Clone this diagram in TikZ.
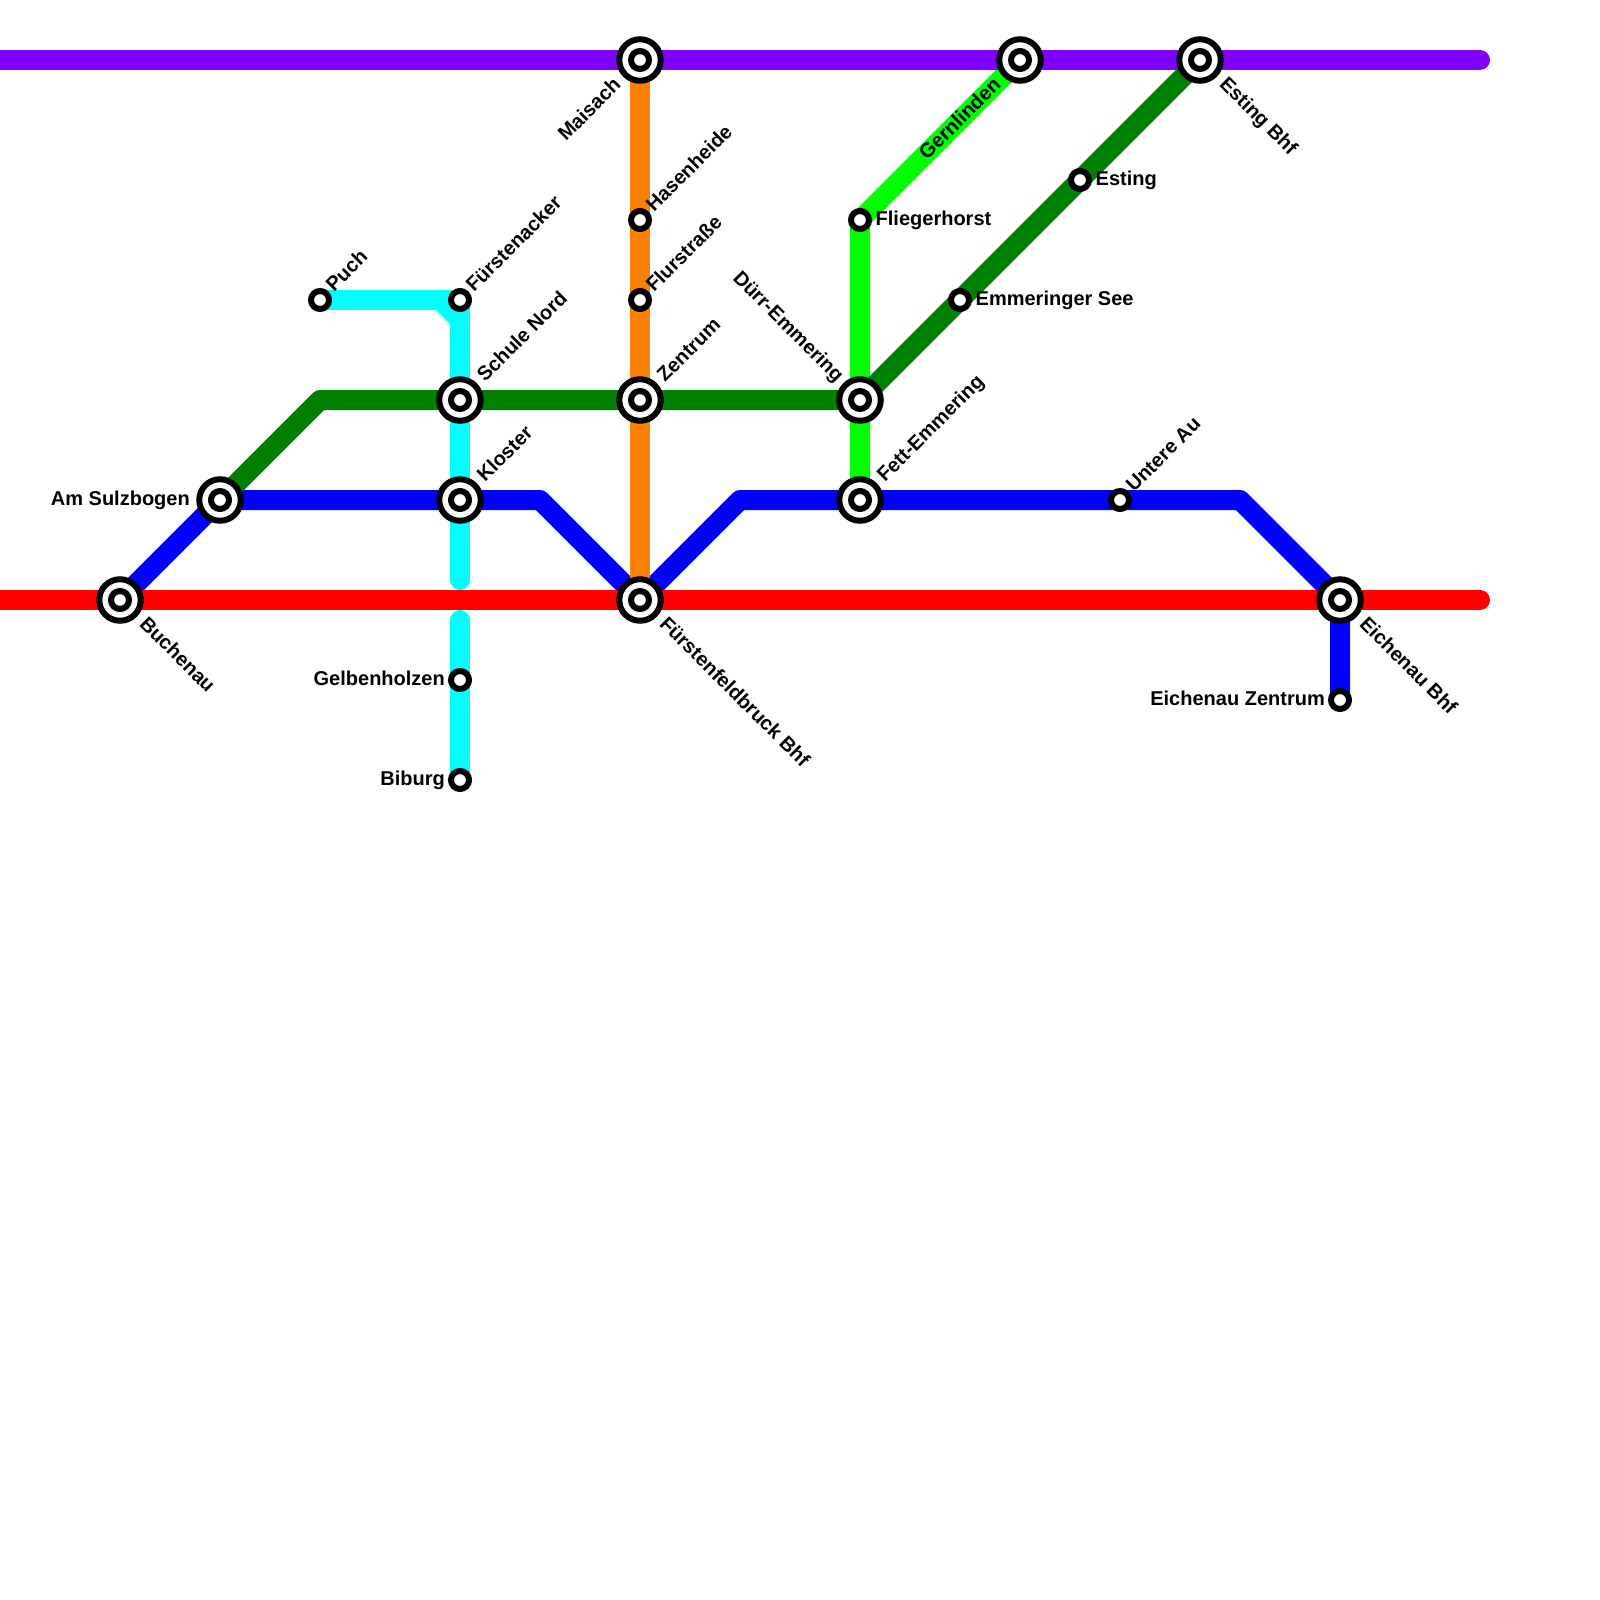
\documentclass[tikz,border=0pt]{standalone}
\usepackage{fontspec}
\setmainfont{Liberation Sans}
\usetikzlibrary{backgrounds}
\definecolor{MetroPurple}{HTML}{8000FF}
\definecolor{MetroRed}{HTML}{FF0000}
\definecolor{MetroBlue}{HTML}{0000FF}
\definecolor{MetroGreen}{HTML}{008000}
\definecolor{MetroLime}{HTML}{00FF00}
\definecolor{MetroCyan}{HTML}{00FFFF}
\definecolor{MetroOrange}{HTML}{FF8000}
\tikzset{
  metro/.style={line width=20pt,line cap=round,line join=round},
  station/.style={circle,draw=black,fill=white,line width=6pt,minimum size=18pt,inner sep=0pt},
  xfer/.style={circle,draw=black,fill=white,line width=6pt,minimum size=41.5pt,inner sep=0pt},
  lbl/.style={inner sep=0pt,font=\bfseries\fontsize{20}{24}\selectfont},
  lblright/.style={lbl,anchor=base west},
  lblleft/.style={lbl,anchor=base east},
  lblup/.style={lbl,anchor=base west,rotate=45},
  lbldown/.style={lbl,anchor=base west,rotate=-45},
  lblupend/.style={lbl,anchor=base east,rotate=45},
  lbldownend/.style={lbl,anchor=base east,rotate=-45}
}

\begin{document}
\begin{tikzpicture}[x=1pt,y=-1pt]
\path[use as bounding box] (0,0) rectangle (1600,1600);
\node[xfer] (maisach) at (640,60) {};
\node[xfer] (gernlinden) at (1020,60) {};
\node[xfer] (estingbhf) at (1200,60) {};
\node[xfer] (schulenord) at (460,400) {};
\node[xfer] (zentrum) at (640,400) {};
\node[xfer] (duerr) at (860,400) {};
\node[xfer] (sulzbogen) at (220,500) {};
\node[xfer] (kloster) at (460,500) {};
\node[xfer] (fett) at (860,500) {};
\node[xfer] (buchenau) at (120,600) {};
\node[xfer] (ffbbhf) at (640,600) {};
\node[xfer] (eichenaubhf) at (1340,600) {};
\node[station] (maisachin) at (maisach) {};
\node[station] (gernlindenin) at (gernlinden) {};
\node[station] (estingbhfin) at (estingbhf) {};
\node[station] (schulenordin) at (schulenord) {};
\node[station] (zentrumin) at (zentrum) {};
\node[station] (duerrin) at (duerr) {};
\node[station] (sulzbogenin) at (sulzbogen) {};
\node[station] (klosterin) at (kloster) {};
\node[station] (fettin) at (fett) {};
\node[station] (buchenauin) at (buchenau) {};
\node[station] (ffbbhfin) at (ffbbhf) {};
\node[station] (eichenaubhfin) at (eichenaubhf) {};
\node[station] (puch) at (320,300) {};
\node[station] (fuerstenacker) at (460,300) {};
\node[station] (hasenheide) at (640,220) {};
\node[station] (flurstrasse) at (640,300) {};
\node[station] (fliegerhorst) at (860,220) {};
\node[station] (esting) at (1080,180) {};
\node[station] (emmeringersee) at (960,300) {};
\node[station] (untereau) at (1120,500) {};
\node[station] (gelbenholzen) at (460,680) {};
\node[station] (biburg) at (460,780) {};
\node[station] (eichenauz) at (1340,700) {};
\coordinate (purplestart) at (-20,60);
\coordinate (purpleend) at (1480,60);
\coordinate (redstart) at (-20,600);
\coordinate (redend) at (1480,600);
\coordinate (cyanbend) at (440,300);
\coordinate (cyanjoin) at (460,320);
\coordinate (cyanstop) at (460,580);
\coordinate (cyanresume) at (460,620);
\coordinate (greenbend) at (320,400);
\coordinate (bluea) at (540,500);
\coordinate (blueb) at (740,500);
\coordinate (bluec) at (1240,500);
\begin{scope}[on background layer]
\draw[metro,MetroCyan] (puch.center) -- (fuerstenacker.center);
\draw[metro,MetroCyan] (cyanbend) -- (cyanjoin);
\draw[metro,MetroCyan] (fuerstenacker.center) -- (schulenord.center) -- (kloster.center) -- (cyanstop);
\draw[metro,MetroCyan] (cyanresume) -- (gelbenholzen.center) -- (biburg.center);
\draw[metro,MetroBlue] (buchenau.center) -- (sulzbogen.center) -- (kloster.center) -- (bluea) -- (ffbbhf.center) -- (blueb) -- (fett.center) -- (untereau.center) -- (bluec) -- (eichenaubhf.center) -- (eichenauz.center);
\draw[metro,MetroLime] (fett.center) -- (duerr.center) -- (fliegerhorst.center) -- (gernlinden.center);
\draw[metro,MetroGreen] (sulzbogen.center) -- (greenbend) -- (schulenord.center) -- (zentrum.center) -- (duerr.center) -- (emmeringersee.center) -- (esting.center) -- (estingbhf.center);
\draw[metro,MetroOrange] (maisach.center) -- (hasenheide.center) -- (flurstrasse.center) -- (zentrum.center) -- (ffbbhf.center);
\draw[metro,MetroRed] (redstart) -- (buchenau.center) -- (ffbbhf.center) -- (eichenaubhf.center) -- (redend);
\draw[metro,MetroPurple] (purplestart) -- (maisach.center) -- (gernlinden.center) -- (estingbhf.center) -- (purpleend);
\end{scope}
\node[lblup] (puchtxt) at ([shift={(14,-7)}]puch) {Puch};
\node[lblup] (fuerstenackertxt) at ([shift={(14,-7)}]fuerstenacker) {Fürstenacker};
\node[lblup] (hasenheidetxt) at ([shift={(14,-7)}]hasenheide) {Hasenheide};
\node[lblup] (flurstrassetxt) at ([shift={(14,-7)}]flurstrasse) {Flurstraße};
\node[lblup] (untereautxt) at ([shift={(14,-7)}]untereau) {Untere Au};
\node[lblup] (schulenordtxt) at ([shift={(25,-17)}]schulenord) {Schule Nord};
\node[lblup] (zentrumtxt) at ([shift={(25,-17)}]zentrum) {Zentrum};
\node[lblup] (klostertxt) at ([shift={(25,-17)}]kloster) {Kloster};
\node[lblup] (fetttxt) at ([shift={(25,-17)}]fett) {Fett-Emmering};
\node[lbldown] (buchenautxt) at ([shift={(18.5,25)}]buchenau) {Buchenau};
\node[lbldown] (ffbbhftxt) at ([shift={(18.5,25)}]ffbbhf) {Fürstenfeldbruck Bhf};
\node[lbldown] (eichenaubhftxt) at ([shift={(18.5,25)}]eichenaubhf) {Eichenau Bhf};
\node[lbldown] (estingbhftxt) at ([shift={(18.5,25)}]estingbhf) {Esting Bhf};
\node[lblright] (fliegerhorsttxt) at ([shift={(15.5,5)}]fliegerhorst) {Fliegerhorst};
\node[lblright] (estingtxt) at ([shift={(15.5,5)}]esting) {Esting};
\node[lblright] (emmeringerseetxt) at ([shift={(15.5,5)}]emmeringersee) {Emmeringer See};
\node[lblleft] (gelbenholzentxt) at ([shift={(-15,5)}]gelbenholzen) {Gelbenholzen};
\node[lblleft] (biburgtxt) at ([shift={(-15,5)}]biburg) {Biburg};
\node[lblleft] (eichenauztxt) at ([shift={(-15,5)}]eichenauz) {Eichenau Zentrum};
\node[lblleft] (sulzbogentxt) at ([shift={(-30,5)}]sulzbogen) {Am Sulzbogen};
\node[lblupend] (maisachtxt) at ([shift={(-18,26)}]maisach) {Maisach};
\node[lblupend] (gernlindentxt) at ([shift={(-18,26)}]gernlinden) {Gernlinden};
\node[lbldownend] (duerrtxt) at ([shift={(-24,-17)}]duerr) {Dürr-Emmering};
\end{tikzpicture}
\end{document}
